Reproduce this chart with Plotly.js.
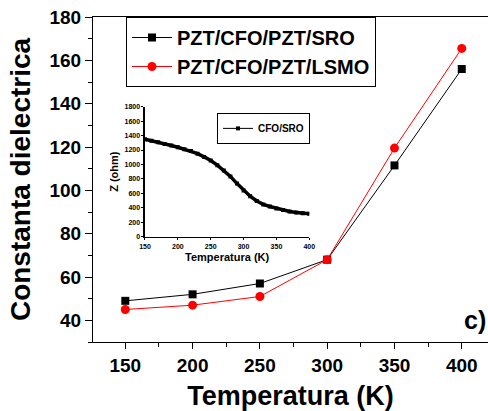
<!DOCTYPE html>
<html>
<head>
<meta charset="utf-8">
<script src="https://cdn.plot.ly/plotly-3.0.1.min.js"></script>
<style>html,body{margin:0;padding:0;background:#fff;}#chart{width:488px;height:411px;}</style>
</head>
<body>
<div id="chart"></div>
<script>
// Main chart data
const temperatures = [150, 200, 250, 300, 350, 400];
const sroValues = [49, 52, 57, 68, 111.5, 156];
const lsmoValues = [45, 47, 51, 68, 119.5, 165.5];
const sroName = 'PZT/CFO/PZT/SRO';
const lsmoName = 'PZT/CFO/PZT/LSMO';

// Inset data (CFO/SRO impedance)
const insetT = [150, 160, 170, 180, 190, 200, 210, 220, 230, 240, 250, 260, 270, 280, 290, 300, 310, 320, 330, 340, 350, 360, 370, 380, 390, 400];
const insetZ = [1349, 1330, 1308, 1285, 1262, 1238, 1212, 1185, 1150, 1105, 1055, 990, 918, 835, 735, 640, 560, 494, 447, 418, 392, 368, 348, 335, 325, 318];
const insetName = 'CFO/SRO';

const FONT = 'Liberation Sans, Arial, sans-serif';

const traces = [
  {x: temperatures, y: sroValues, name: sroName, type: 'scatter', mode: 'lines+markers',
   line: {color: '#000000', width: 1}, marker: {symbol: 'square', size: 8, color: '#000000'},
   xaxis: 'x', yaxis: 'y', legend: 'legend'},
  {x: temperatures, y: lsmoValues, name: lsmoName, type: 'scatter', mode: 'lines+markers',
   line: {color: '#ff0000', width: 1}, marker: {symbol: 'circle', size: 9, color: '#ff0000'},
   xaxis: 'x', yaxis: 'y', legend: 'legend'},
  // thick dense curve of the inset
  {x: insetT, y: insetZ, name: insetName, type: 'scatter', mode: 'lines',
   line: {color: '#000000', width: 3.5}, showlegend: false,
   xaxis: 'x2', yaxis: 'y2'},
  // same data with markers, provides the thin line + square legend entry
  {x: insetT, y: insetZ, name: insetName, type: 'scatter', mode: 'lines+markers',
   line: {color: '#000000', width: 1}, marker: {symbol: 'square', size: 4, color: '#000000'},
   xaxis: 'x2', yaxis: 'y2', legend: 'legend2'}
];

const layout = {
  width: 488, height: 411,
  margin: {l: 93, r: 0, t: 17, b: 69, pad: 0},
  paper_bgcolor: '#ffffff', plot_bgcolor: 'rgba(0,0,0,0)',
  font: {family: FONT, color: '#000000'},
  showlegend: true,
  xaxis: {
    domain: [0, 1], range: [126, 419.5], anchor: 'y',
    tickmode: 'linear', tick0: 150, dtick: 50,
    ticks: 'outside', ticklen: 6, tickwidth: 1, tickcolor: '#000',
    minor: {tickmode: 'linear', tick0: 125, dtick: 50, ticks: 'outside', ticklen: 4, tickwidth: 1, tickcolor: '#000'},
    showline: true, linecolor: '#000', linewidth: 1, mirror: true,
    showgrid: false, zeroline: false,
    tickfont: {family: FONT, size: 19, weight: 'bold', color: '#000'},
    title: {text: 'Temperatura (K)', font: {family: FONT, size: 27, weight: 'bold', color: '#000'}, standoff: 14}
  },
  yaxis: {
    domain: [0, 1], range: [30, 180], anchor: 'x',
    tickmode: 'linear', tick0: 40, dtick: 20,
    ticks: 'outside', ticklen: 7, tickwidth: 1, tickcolor: '#000',
    minor: {tickmode: 'linear', tick0: 30, dtick: 20, ticks: 'outside', ticklen: 4, tickwidth: 1, tickcolor: '#000'},
    showline: true, linecolor: '#000', linewidth: 1, mirror: false,
    showgrid: false, zeroline: false,
    tickfont: {family: FONT, size: 19, weight: 'bold', color: '#000'},
    title: {text: 'Constanta dielectrica', font: {family: FONT, size: 28, weight: 'bold', color: '#000'}, standoff: 10}
  },
  xaxis2: {
    domain: [0.1316, 0.5476], range: [150, 400], anchor: 'y2',
    tickmode: 'linear', tick0: 150, dtick: 50,
    ticks: 'outside', ticklen: 2, tickwidth: 1, tickcolor: '#000',
    showline: true, linecolor: '#000', linewidth: 1.5, mirror: false,
    showgrid: false, zeroline: false,
    tickfont: {family: FONT, size: 7, weight: 'bold', color: '#000'},
    title: {text: 'Temperatura (K)', font: {family: FONT, size: 11, weight: 'bold', color: '#000'}, standoff: 4}
  },
  yaxis2: {
    domain: [0.324, 0.724], range: [0, 1800], anchor: 'x2',
    tickmode: 'linear', tick0: 0, dtick: 200,
    ticks: 'outside', ticklen: 2, tickwidth: 1, tickcolor: '#000',
    showline: true, linecolor: '#000', linewidth: 1.5, mirror: false,
    showgrid: false, zeroline: false,
    tickfont: {family: FONT, size: 7, weight: 'bold', color: '#000'},
    title: {text: 'Z (ohm)', font: {family: FONT, size: 11, weight: 'bold', color: '#000'}, standoff: 3}
  },
  legend: {
    x: 0.0835, y: 1.0, xanchor: 'left', yanchor: 'top',
    bgcolor: '#ffffff', bordercolor: '#000', borderwidth: 1,
    font: {family: FONT, size: 20, weight: 'bold', color: '#000'},
    tracegroupgap: 0, itemwidth: 40
  },
  legend2: {
    x: 0.314, y: 0.705, xanchor: 'left', yanchor: 'top',
    bgcolor: '#ffffff', bordercolor: '#000', borderwidth: 1,
    font: {family: FONT, size: 10, weight: 'bold', color: '#000'},
    itemwidth: 30
  },
  annotations: [
    {text: 'c)', xref: 'paper', yref: 'paper', x: 1, y: 0.0, xanchor: 'right', yanchor: 'bottom',
     showarrow: false, font: {family: FONT, size: 25, weight: 'bold', color: '#000'}, yshift: 6}
  ]
};

Plotly.newPlot('chart', traces, layout, {displayModeBar: false, staticPlot: true});
</script>
</body>
</html>
